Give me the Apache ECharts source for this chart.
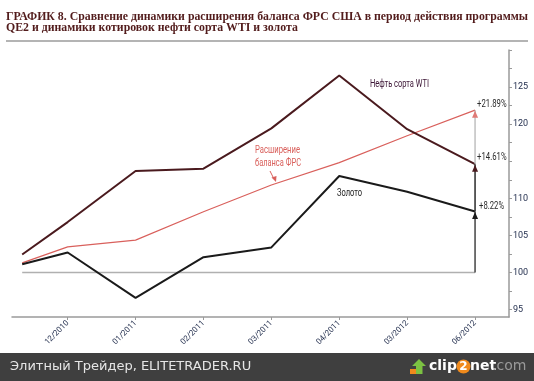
<!DOCTYPE html>
<html><head><meta charset="utf-8">
<script src="https://cdn.jsdelivr.net/npm/echarts@6/dist/echarts.min.js"></script>
<style>html,body{margin:0;padding:0;background:#fff}#c{width:534px;height:381px}</style>
</head><body><div id="c"></div>
<script>
// ---- data ----
const tickLabels = ['12/2010','01/2011','02/2011','03/2011','04/2011','03/2012','06/2012'];
const tickPos = [1,2,3,4,5,6,7];
const xPos = [0.33,1,2,3,4,5,6,7];
const oil  = [102.43,106.8,113.69,114.0,119.43,126.57,119.32,114.61];
const gold = [101.12,102.7,96.57,102.07,103.38,113.01,110.89,108.22];
const frs  = [101.3,103.46,104.36,108.19,111.8,114.81,118.43,121.89];
const baseValue = 100;
const yTicks = [95,97.5,100,102.5,105,107.5,110,112.5,115,117.5,120,122.5,125,127.5,130];
const yLabels = [95,100,105,110,120,125];
const titleLines = ['ГРАФИК 8. Сравнение динамики расширения баланса ФРС США в период действия программы',
                    'QE2 и динамики котировок нефти сорта WTI и золота'];

const pair = (arr) => arr.map((v,i)=>[xPos[i], v]);
const last = (arr) => arr[arr.length-1];
const xEnd = last(xPos);
const pct = (v) => '+' + (v - baseValue).toFixed(2) + '%';

const SANS = "Roboto, 'Liberation Sans', sans-serif";
const mctx = document.createElement('canvas').getContext('2d');
function measure(text, font){ mctx.font = font; return mctx.measureText(text).width; }
// text squeezed horizontally to a target width (condensed look)
function sq(text, x, y, font, fill, targetW, extra){
  const w = measure(text, font);
  return Object.assign({type:'text', x:x, y:y, scaleX: targetW / w, silent:true,
    style:{text:text, font:font, fill:fill, textVerticalAlign:'middle'}}, extra||{});
}

function arrowSeries(from, to, lineColor, triColor, lw){
  return {
    type:'line', silent:true, z:3,
    lineStyle:{color:lineColor, width:lw},
    data:[
      {value:[xEnd, from], symbol:'none'},
      {value:[xEnd, to], symbol:'triangle', symbolSize:[6,7], symbolOffset:[0,4],
       itemStyle:{color:triColor}}
    ]
  };
}

const chart = echarts.init(document.getElementById('c'), null, {renderer:'canvas'});
chart.setOption({
  animation:false,
  backgroundColor:'#fff',
  grid:{left:12, right:25, top:50, bottom:64},
  xAxis:{
    type:'value', min:0.18, max:7.5,
    axisLine:{lineStyle:{color:'#9a9a9a', width:1.5}},
    axisTick:{customValues:tickPos, length:3, lineStyle:{color:'#9a9a9a'}},
    axisLabel:{customValues:tickPos, rotate:45, margin:5,
      formatter:(v)=>tickLabels[tickPos.indexOf(v)],
      color:'#1e2a4a', fontSize:8, fontFamily:SANS},
    splitLine:{show:false}
  },
  yAxis:{
    type:'value', position:'right', min:94, max:130,
    axisLine:{show:true, lineStyle:{color:'#9a9a9a', width:1.5}},
    axisTick:{show:true, customValues:yTicks, length:3, lineStyle:{color:'#9a9a9a'}},
    axisLabel:{customValues:yLabels, margin:4, color:'#1e2a4a', fontSize:9, fontFamily:SANS},
    splitLine:{show:false}
  },
  series:[
    {type:'line', silent:true, symbol:'none', z:1,
     lineStyle:{color:'#b0b0b0', width:1.5},
     data:[[xPos[0], baseValue],[xEnd, baseValue]]},
    {name:'Расширение баланса ФРС', type:'line', symbol:'none', z:2,
     lineStyle:{color:'#d9605c', width:1.2}, data:pair(frs)},
    {name:'Нефть сорта WTI', type:'line', symbol:'none', z:2,
     lineStyle:{color:'#4a1a1e', width:2}, data:pair(oil)},
    {name:'Золото', type:'line', symbol:'none', z:2,
     lineStyle:{color:'#1a1a1a', width:2}, data:pair(gold)},
    arrowSeries(last(oil), last(frs), '#b0b0b0', '#e07a76', 1.2),
    arrowSeries(last(gold), last(oil), '#2a2a2a', '#4a1a1e', 1.5),
    arrowSeries(baseValue, last(gold), '#444', '#1a1a1a', 1.5)
  ]
});

// percentage labels placed via the chart's own scales
const p = (v) => chart.convertToPixel({gridIndex:0}, [xEnd, v]);
const TF = "bold 13px 'Liberation Serif', serif";
const tScale = 522 / measure(titleLines[0], TF);
const LF = "11px " + SANS;
const graphics = [
  {type:'text', x:6, y:16.5, scaleX:tScale, style:{text:titleLines[0], fill:'#521c1c', font:TF, textVerticalAlign:'middle'}},
  {type:'text', x:6, y:27.5, scaleX:tScale, style:{text:titleLines[1], fill:'#521c1c', font:TF, textVerticalAlign:'middle'}},
  {type:'line', shape:{x1:6,y1:41,x2:528,y2:41}, style:{stroke:'#b4b4b4', lineWidth:2}},
  sq('Нефть сорта WTI', 370, 84, LF, '#3b1535', 59),
  sq('Расширение', 255, 150, LF, '#d9605c', 45),
  sq('баланса ФРС', 255, 163, LF, '#d9605c', 46),
  {type:'line', shape:{x1:270,y1:171,x2:274,y2:179}, style:{stroke:'#d9605c', lineWidth:1}},
  {type:'polygon', shape:{points:[[276,182],[271.5,177.5],[276.5,176]]}, style:{fill:'#d9605c'}},
  sq('Золото', 337, 193, LF, '#1a1a1a', 25),
  sq(pct(last(frs)), p(last(frs))[0]+2, p(last(frs))[1]-6, LF, '#2a2a2a', 29.5),
  sq(pct(last(oil)), p(last(oil))[0]+2, p(last(oil))[1]-7, LF, '#2a2a2a', 29.5),
  sq(pct(last(gold)), p(last(gold))[0]+4, p(last(gold))[1]-5, LF, '#2a2a2a', 25),
  {type:'rect', shape:{x:0,y:353,width:534,height:28}, style:{fill:'#3f3f3f'}},
  {type:'text', x:10, y:367, style:{text:'Элитный Трейдер, ELITETRADER.RU', fill:'#e6e6e6',
    font:"13px 'DejaVu Sans', sans-serif", textVerticalAlign:'middle'}},
  {type:'rect', shape:{x:410,y:369,width:9,height:5}, style:{fill:'#f08a1c'}},
  {type:'polygon', shape:{points:[[419,359],[426,366],[422.5,366],[422.5,374],[416,374],[416,366],[412,366]]}, style:{fill:'#7cc242'}},
  {type:'text', x:429, y:366, style:{text:'clip', fill:'#ffffff',
    font:"bold 14px 'DejaVu Sans', sans-serif", textVerticalAlign:'middle'}},
  {type:'circle', shape:{cx:463.5, cy:366.5, r:7}, style:{fill:'#f08a1c'}},
  {type:'text', x:463.5, y:366.5, style:{text:'2', fill:'#ffffff',
    font:"bold 12px 'DejaVu Sans', sans-serif", textAlign:'center', textVerticalAlign:'middle'}},
  {type:'text', x:470, y:366, style:{text:'net', fill:'#ffffff',
    font:"bold 14px 'DejaVu Sans', sans-serif", textVerticalAlign:'middle'}},
  {type:'text', x:492, y:366, style:{text:'.com', fill:'#9a9a9a',
    font:"14px 'DejaVu Sans', sans-serif", textVerticalAlign:'middle'}}
];
chart.setOption({graphic: graphics});
</script></body></html>
